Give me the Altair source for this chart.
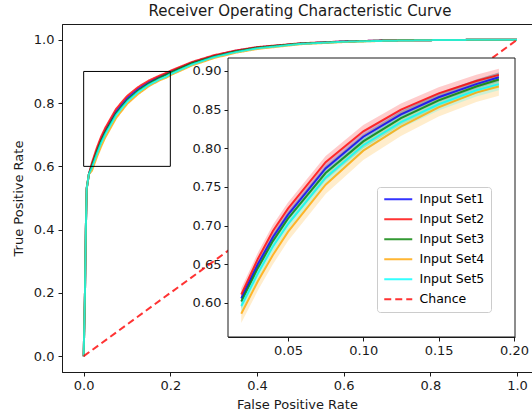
import altair as alt
import pandas as pd

# ---------------- data ----------------
series_names = ["Input Set1", "Input Set2", "Input Set3", "Input Set4", "Input Set5"]
line_colors = ["#0000ff", "#ff0000", "#008000", "#ffa500", "#00ffff"]
chance_name = "Chance"
chance_color = "#ff0000"

# common start of every curve (near-vertical rise)
fpr_head = [0.0, 0.003, 0.005, 0.007, 0.012]
tpr_head = [0.0, 0.20, 0.40, 0.53, 0.575]

# zoomed region (also shown in inset)
fpr_zoom = [0.019, 0.03, 0.04, 0.05, 0.075, 0.10, 0.125, 0.15, 0.175, 0.19]
tpr_set1 = [0.606, 0.650, 0.685, 0.714, 0.774, 0.815, 0.844, 0.866, 0.883, 0.892]
tpr_set2 = [0.611, 0.657, 0.693, 0.722, 0.782, 0.822, 0.850, 0.871, 0.887, 0.895]
tpr_set3 = [0.602, 0.645, 0.680, 0.709, 0.768, 0.809, 0.839, 0.862, 0.880, 0.889]
tpr_set4 = [0.586, 0.628, 0.662, 0.692, 0.753, 0.797, 0.828, 0.853, 0.872, 0.880]
tpr_set5 = [0.596, 0.638, 0.673, 0.702, 0.762, 0.804, 0.834, 0.857, 0.875, 0.883]

lo_set1 = [0.600, 0.644, 0.679, 0.708, 0.768, 0.809, 0.838, 0.860, 0.877, 0.886]
hi_set1 = [0.612, 0.656, 0.691, 0.720, 0.780, 0.821, 0.850, 0.872, 0.889, 0.898]
lo_set2 = [0.603, 0.649, 0.685, 0.714, 0.774, 0.814, 0.842, 0.863, 0.879, 0.887]
hi_set2 = [0.619, 0.665, 0.701, 0.730, 0.790, 0.830, 0.858, 0.879, 0.895, 0.903]
lo_set3 = [0.593, 0.636, 0.671, 0.700, 0.759, 0.800, 0.830, 0.853, 0.871, 0.880]
hi_set3 = [0.611, 0.654, 0.689, 0.718, 0.777, 0.818, 0.848, 0.871, 0.889, 0.898]
lo_set4 = [0.574, 0.616, 0.650, 0.680, 0.741, 0.785, 0.816, 0.841, 0.860, 0.868]
hi_set4 = [0.598, 0.640, 0.674, 0.704, 0.765, 0.809, 0.840, 0.865, 0.884, 0.892]
lo_set5 = [0.588, 0.630, 0.665, 0.694, 0.754, 0.796, 0.826, 0.849, 0.867, 0.875]
hi_set5 = [0.604, 0.646, 0.681, 0.710, 0.770, 0.812, 0.842, 0.865, 0.883, 0.891]

# tail of the curves
fpr_tail = [0.2, 0.25, 0.3, 0.35, 0.4, 0.5, 0.6, 0.7, 0.8, 0.9, 1.0]
tail_set1 = [0.899, 0.928, 0.949, 0.965, 0.976, 0.988, 0.995, 0.998, 0.999, 1.0, 1.0]
tail_set2 = [0.902, 0.930, 0.951, 0.966, 0.977, 0.989, 0.995, 0.998, 0.999, 1.0, 1.0]
tail_set3 = [0.896, 0.926, 0.947, 0.963, 0.975, 0.988, 0.994, 0.998, 0.999, 1.0, 1.0]
tail_set4 = [0.888, 0.919, 0.942, 0.959, 0.971, 0.986, 0.993, 0.997, 0.999, 1.0, 1.0]
tail_set5 = [0.891, 0.922, 0.945, 0.961, 0.973, 0.987, 0.994, 0.997, 0.999, 1.0, 1.0]

chance_fpr = [0.0, 1.0]
chance_tpr = [0.0, 1.0]

# zoom box drawn on the main axes
box_fpr = [0.0, 0.2]
box_tpr = [0.6, 0.9]

main_ticks = [0.0, 0.2, 0.4, 0.6, 0.8, 1.0]
inset_x_ticks = [0.05, 0.10, 0.15, 0.20]
inset_y_ticks = [0.60, 0.65, 0.70, 0.75, 0.80, 0.85, 0.90]

# ---------------- tables ----------------
zoom_tpr = [tpr_set1, tpr_set2, tpr_set3, tpr_set4, tpr_set5]
zoom_lo = [lo_set1, lo_set2, lo_set3, lo_set4, lo_set5]
zoom_hi = [hi_set1, hi_set2, hi_set3, hi_set4, hi_set5]
tails = [tail_set1, tail_set2, tail_set3, tail_set4, tail_set5]

main_rows = []
inset_rows = []
for i, name in enumerate(series_names):
    xs = fpr_head + fpr_zoom + fpr_tail
    ys = tpr_head + zoom_tpr[i] + tails[i]
    for j, (x, y) in enumerate(zip(xs, ys)):
        main_rows.append({"series": name, "fpr": x, "tpr": y, "k": i * 100 + j})
    for j, x in enumerate(fpr_zoom):
        inset_rows.append({"series": name, "fpr": x, "tpr": zoom_tpr[i][j],
                           "lo": zoom_lo[i][j], "hi": zoom_hi[i][j]})
for j, (x, y) in enumerate(zip(chance_fpr, chance_tpr)):
    main_rows.append({"series": chance_name, "fpr": x, "tpr": y, "k": 900 + j})

main_df = pd.DataFrame(main_rows)
inset_df = pd.DataFrame(inset_rows)

all_names = series_names + [chance_name]
color_scale = alt.Scale(domain=all_names, range=line_colors + [chance_color])
dash_scale = alt.Scale(domain=all_names, range=[[1, 0]] * 5 + [[7, 4]])

legend = alt.Legend(
    title=None, orient="none", legendX=315, legendY=163,
    symbolType="M-1,0L4.6,0", symbolStrokeWidth=2, symbolSize=100,
    labelFontSize=12.5, labelFont="DejaVu Sans", labelColor="black",
    fillColor="white", strokeColor="#cccccc", padding=6, cornerRadius=3,
    rowPadding=7, labelOffset=24,
)

txt = "#1a1a1a"
ax_common = dict(grid=False, tickSize=4, tickColor=txt, domainColor=txt,
                 labelColor=txt, titleColor=txt, labelFontSize=13,
                 titleFontSize=13, titleFontWeight="normal",
                 labelFont="DejaVu Sans", titleFont="DejaVu Sans")

main_x_scale = alt.Scale(domain=[-0.05, 1.0346], nice=False, zero=False)
main_y_scale = alt.Scale(domain=[-0.05, 1.05], nice=False, zero=False)
main_x_axis = alt.Axis(values=main_ticks, format=".1f", title="False Positive Rate",
                       titlePadding=6, labelPadding=3, **ax_common)
main_y_axis = alt.Axis(values=main_ticks, format=".1f", title="True Positive Rate",
                       titlePadding=8, labelPadding=4, **ax_common)

main_lines = alt.Chart(main_df).mark_line(strokeWidth=2, opacity=0.8).encode(
    x=alt.X("fpr:Q", scale=main_x_scale, axis=main_x_axis),
    y=alt.Y("tpr:Q", scale=main_y_scale, axis=main_y_axis),
    color=alt.Color("series:N", scale=color_scale, legend=legend),
    strokeDash=alt.StrokeDash("series:N", scale=dash_scale, legend=legend),
    order="k:Q",
)

box = alt.Chart(pd.DataFrame({"a": [0]})).mark_rect(
    fillOpacity=0, stroke="black", strokeWidth=1
).encode(
    x=alt.datum(box_fpr[0]), x2=alt.datum(box_fpr[1]),
    y=alt.datum(box_tpr[0]), y2=alt.datum(box_tpr[1]),
)

main_layer = alt.layer(main_lines, box)

# ---------------- inset ----------------
INSET_X_DOMAIN = [0.0102, 0.2007]
INSET_Y_DOMAIN = [0.556, 0.9168]
inset_x_scale = alt.Scale(domain=INSET_X_DOMAIN, range=[166, 453], nice=False, zero=False)
inset_y_scale = alt.Scale(domain=INSET_Y_DOMAIN, range=[313, 34], nice=False, zero=False)
inset_x_axis = alt.Axis(orient="bottom", offset=-35, values=inset_x_ticks, format=".2f",
                        title=None, labelPadding=3, **ax_common)
inset_y_axis = alt.Axis(orient="left", offset=-166, values=inset_y_ticks, format=".2f",
                        title=None, labelPadding=3, **ax_common)

inset_bg = alt.Chart(pd.DataFrame({"a": [0]})).mark_rect(
    fill="white", stroke="#1a1a1a", strokeWidth=1
).encode(
    x=alt.X(datum=INSET_X_DOMAIN[0], scale=inset_x_scale, axis=inset_x_axis),
    x2=alt.datum(INSET_X_DOMAIN[1]),
    y=alt.Y(datum=INSET_Y_DOMAIN[0], scale=inset_y_scale, axis=inset_y_axis),
    y2=alt.datum(INSET_Y_DOMAIN[1]),
)

inset_bands = alt.Chart(inset_df).mark_area(opacity=0.2).encode(
    x=alt.X("fpr:Q", scale=inset_x_scale, axis=inset_x_axis),
    y=alt.Y("lo:Q", scale=inset_y_scale, axis=inset_y_axis),
    y2="hi:Q",
    color=alt.Color("series:N", scale=color_scale, legend=None),
)

inset_lines = alt.Chart(inset_df).mark_line(strokeWidth=2, opacity=0.8).encode(
    x=alt.X("fpr:Q", scale=inset_x_scale, axis=inset_x_axis),
    y=alt.Y("tpr:Q", scale=inset_y_scale, axis=inset_y_axis),
    color=alt.Color("series:N", scale=color_scale, legend=None),
)

inset_layer = alt.layer(inset_bg, inset_bands, inset_lines)

chart = alt.layer(main_layer, inset_layer).resolve_scale(
    x="independent", y="independent"
).properties(
    width=470, height=348,
    autosize=alt.AutoSizeParams(type="none"),
    padding={"left": 62, "top": 24, "right": 0, "bottom": 45},
    title=alt.TitleParams("Receiver Operating Characteristic Curve", fontSize=15,
                          font="DejaVu Sans", fontWeight="normal", color=txt,
                          anchor="middle", offset=5, dx=3),
).configure(font="DejaVu Sans").configure_view(stroke=txt, strokeWidth=1)

chart.save("out.html", embed_options={"renderer": "svg", "actions": False})
